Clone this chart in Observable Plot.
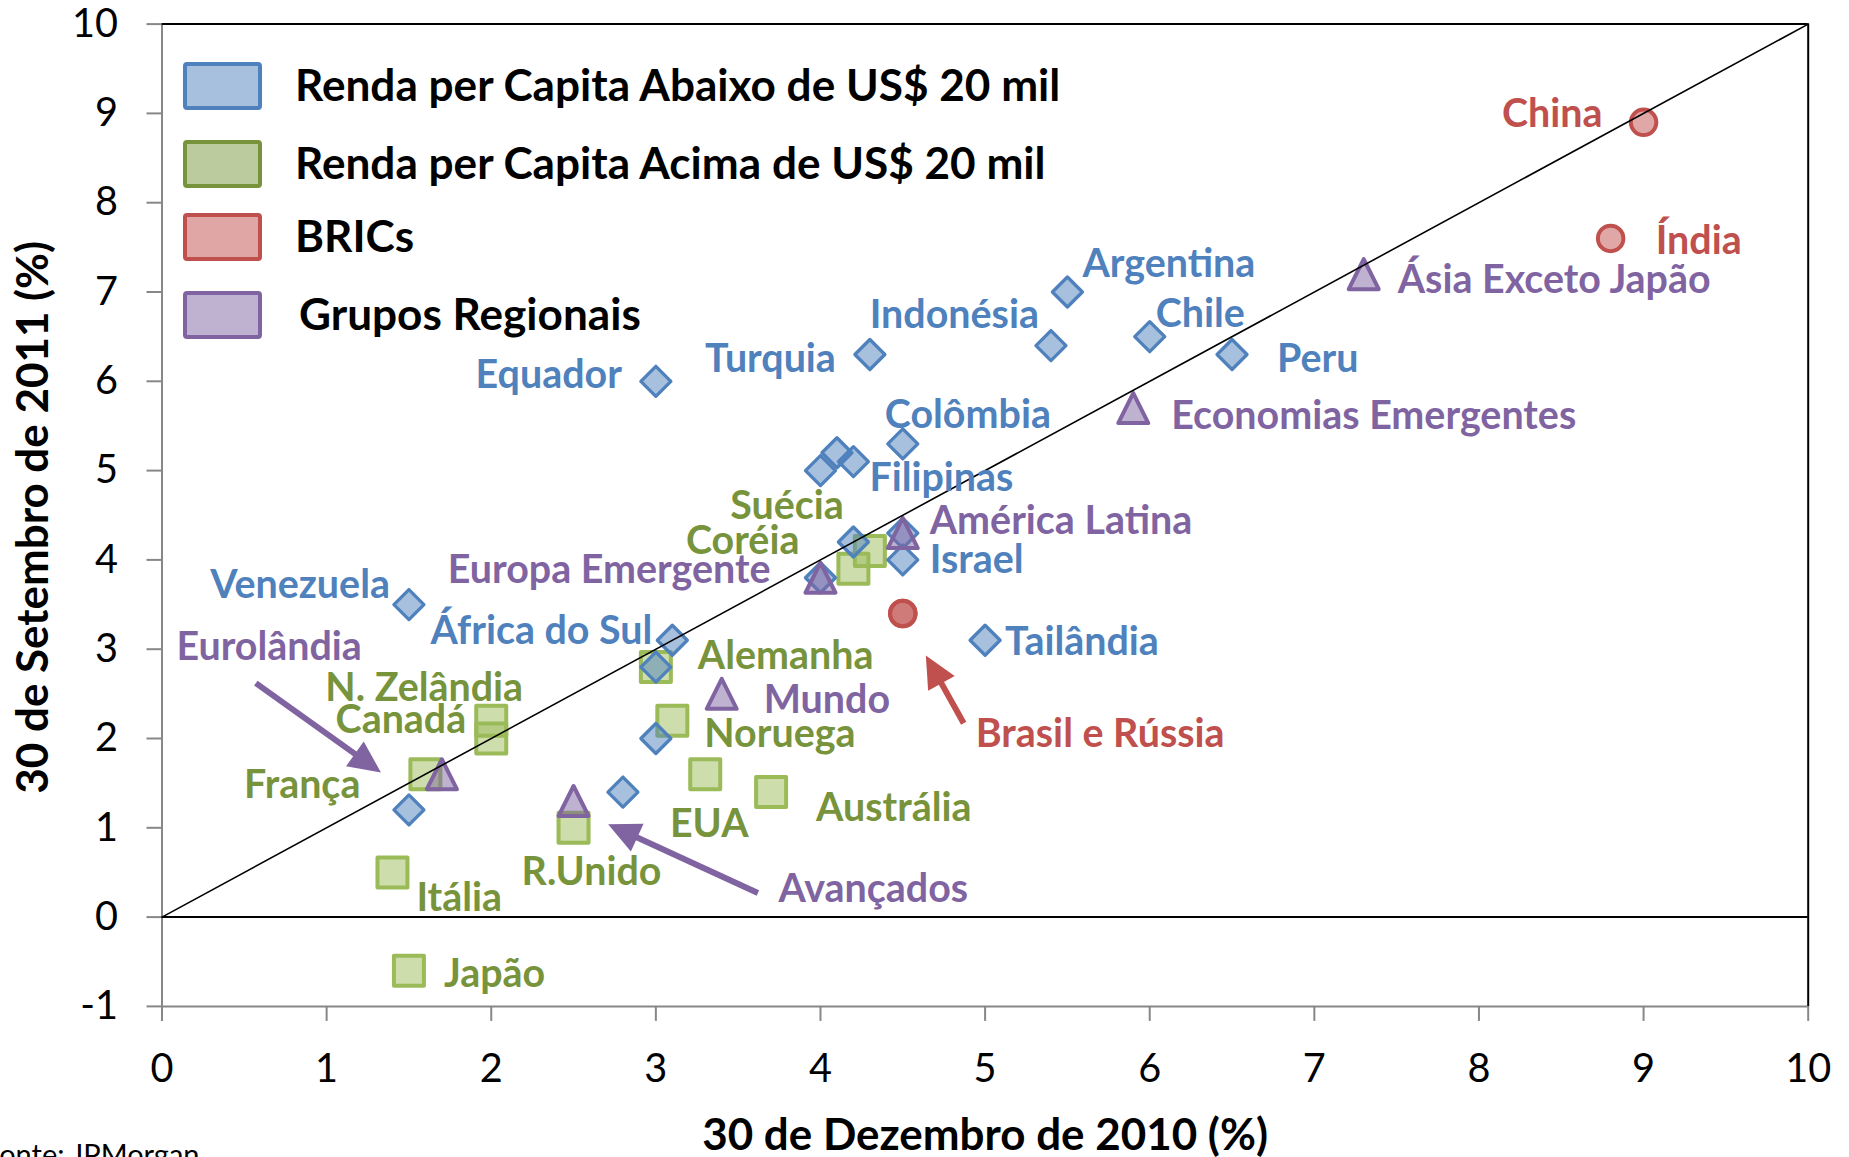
<!DOCTYPE html>
<html lang="pt">
<head>
<meta charset="utf-8">
<title>Crescimento do PIB</title>
<script src="https://cdn.jsdelivr.net/npm/d3@7"></script>
<script src="https://cdn.jsdelivr.net/npm/@observablehq/plot@0.6"></script>
<style>
  html, body { margin: 0; padding: 0; background: #fff; }
  #wrap { position: relative; width: 1849px; height: 1157px; overflow: hidden; font-family: Lato, "Open Sans", sans-serif; }
  #wrap svg { position: absolute; left: 0; top: 0; }
  .item { position: absolute; left: 183px; display: flex; align-items: center; white-space: nowrap; font-weight: 700; color: #000; }
  .sw { box-sizing: border-box; width: 79px; height: 48px; border: 4px solid; border-radius: 4px; margin-right: 33px; flex: none; }
  #caption { position: absolute; left: -16px; top: 1139px; font-size: 29px; line-height: 1; color: #000; white-space: nowrap; }
</style>
</head>
<body>
<div id="wrap"></div>
<script>
// ---------------- DATA ----------------
// Renda per Capita Abaixo de US$ 20 mil (azul)
const belowCountries = ["Argentina","Indonésia","Chile","Peru","Turquia","Equador","Colômbia","","Filipinas","","","","Israel","","Venezuela","África do Sul","","","","","Tailândia"];
const belowDec2010 = [5.5, 5.4, 6.0, 6.5, 4.3, 3.0, 4.5, 4.1, 4.2, 4.0, 4.2, 4.5, 4.5, 4.0, 1.5, 3.1, 3.0, 3.0, 2.8, 1.5, 5.0];
const belowSep2011 = [7.0, 6.4, 6.5, 6.3, 6.3, 6.0, 5.3, 5.2, 5.1, 5.0, 4.2, 4.3, 4.0, 3.8, 3.5, 3.1, 2.8, 2.0, 1.4, 1.2, 3.1];

// Renda per Capita Acima de US$ 20 mil (verde)
const aboveCountries = ["Suécia","Coréia","Alemanha","N. Zelândia","Canadá","França","Noruega","EUA","Austrália","R.Unido","Itália","Japão"];
const aboveDec2010 = [4.3, 4.2, 3.0, 2.0, 2.0, 1.6, 3.1, 3.3, 3.7, 2.5, 1.4, 1.5];
const aboveSep2011 = [4.1, 3.9, 2.8, 2.2, 2.0, 1.6, 2.2, 1.6, 1.4, 1.0, 0.5, -0.6];

// BRICs (vermelho)
const bricsCountries = ["China","Índia","Brasil","Rússia"];
const bricsDec2010 = [9.0, 8.8, 4.5, 4.5];
const bricsSep2011 = [8.9, 7.6, 3.4, 3.4];

// Grupos Regionais (roxo)
const regionalGroups = ["Ásia Exceto Japão","Economias Emergentes","América Latina","Europa Emergente","Mundo","Eurolândia","Avançados"];
const regionalDec2010 = [7.3, 5.9, 4.5, 4.0, 3.4, 1.7, 2.5];
const regionalSep2011 = [7.2, 5.7, 4.3, 3.8, 2.5, 1.6, 1.3];

// Setas de anotação (unidades dos dados)
const arrowLabels = ["Eurolândia","Avançados","Brasil e Rússia"];
const arrowX1 = [0.57, 3.62, 4.87];
const arrowY1 = [2.62, 0.27, 2.17];
const arrowX2 = [1.33, 2.71, 4.64];
const arrowY2 = [1.62, 1.04, 2.93];

const legendLabels = ["Renda per Capita Abaixo de US$ 20 mil","Renda per Capita Acima de US$ 20 mil","BRICs","Grupos Regionais"];
const xTicks = [0,1,2,3,4,5,6,7,8,9,10];
const yTicks = [-1,0,1,2,3,4,5,6,7,8,9,10];
const diagonal = [[0,0],[10,10]];
const xTitle = "30 de Dezembro de 2010 (%)";
const yTitle = "30 de Setembro de 2011 (%)";
const source = "Fonte: JPMorgan";

// ---------------- LAYOUT / STYLE ----------------
const W = 1849, H = 1157, mL = 161.5, mR = 41.3, mT = 23.6, mB = 151.1;
const kx = (W - mR - mL) / 10;
const ky = (H - mB - mT) / 11;

// label placement: [textAnchor, dx px, dy px, optional text]
const labelLayout = {
  "Argentina": ["start", 15, -28],
  "Indonésia": ["end", -12, -30],
  "Chile": ["start", 6, -22],
  "Peru": ["start", 45, 5],
  "Turquia": ["end", -34, 5],
  "Equador": ["end", -34, -6],
  "Colômbia": ["start", -18, -28],
  "Filipinas": ["start", 16, 17],
  "Israel": ["start", 27, 0],
  "Venezuela": ["end", -19, -19],
  "África do Sul": ["end", -20, -9],
  "Tailândia": ["start", 20, 2],
  "Suécia": ["end", -26, -45],
  "Coréia": ["end", -54, -27],
  "Alemanha": ["start", 42, -11],
  "N. Zelândia": ["middle", -67, -32],
  "Canadá": ["end", -25, -18],
  "França": ["end", -65, 11],
  "Noruega": ["start", 32, 14],
  "EUA": ["middle", 4, 50],
  "Austrália": ["start", 45, 16],
  "R.Unido": ["start", -52, 45],
  "Itália": ["start", 24, 26],
  "Japão": ["start", 35, 4],
  "China": ["end", -41, -8],
  "Índia": ["start", 45, 3],
  "Brasil": ["start", 73, 121, "Brasil e Rússia"],
  "Ásia Exceto Japão": ["start", 34, 6],
  "Economias Emergentes": ["start", 38, 8],
  "América Latina": ["start", 27, -12],
  "Europa Emergente": ["end", -50, -7],
  "Mundo": ["start", 42, 7],
  "Eurolândia": ["end", -80, -127],
  "Avançados": ["start", 205, 88]
};

// font sizes fitted to reference text widths
const ctx = document.createElement("canvas").getContext("2d");
function fit(text, weight, target) {
  ctx.font = `${weight} 100px Lato`;
  return 100 * target / ctx.measureText(text).width;
}
const labelFont = fit("Economias Emergentes", 700, 405);
const legendFont = fit(legendLabels[0], 700, 768);
const tickFont = fit("10", 400, 46);
const titleFont = fit(xTitle, 700, 566);

// symbols (half-size = r)
const sym = (f) => ({draw(c, size) { f(c, Math.sqrt(size / Math.PI)); }});
const squareSym = sym((c, r) => { c.moveTo(-r,-r); c.lineTo(r,-r); c.lineTo(r,r); c.lineTo(-r,r); c.closePath(); });
const diamondSym = sym((c, r) => { c.moveTo(0,-r); c.lineTo(r,0); c.lineTo(0,r); c.lineTo(-r,0); c.closePath(); });
const triangleSym = sym((c, r) => { c.moveTo(0,-r); c.lineTo(r,r); c.lineTo(-r,r); c.closePath(); });
const headSym = sym((c, r) => { c.moveTo(0,0); c.lineTo(0.95*r, 2*r); c.lineTo(-0.95*r, 2*r); c.closePath(); });

const series = [
  {names: aboveCountries, xs: aboveDec2010, ys: aboveSep2011, color: "#9BBB59", text: "#77933C", symbol: squareSym, r: 15, sw: 4},
  {names: belowCountries, xs: belowDec2010, ys: belowSep2011, color: "#4F81BD", text: "#4F81BD", symbol: diamondSym, r: 15, sw: 3.3},
  {names: bricsCountries, xs: bricsDec2010, ys: bricsSep2011, color: "#C0504D", text: "#C0504D", symbol: "circle", r: 12.75, sw: 4},
  {names: regionalGroups, xs: regionalDec2010, ys: regionalSep2011, color: "#8064A2", text: "#8064A2", symbol: triangleSym, r: 15, sw: 4}
];
const legendColors = [["#4F81BD","#A7C0DE"],["#77933C","#BCCB9E"],["#C0504D","#E0A6A5"],["#8064A2","#BFB1D0"]];
const arrowColors = ["#8064A2","#8064A2","#C0504D"];

// ---------------- MARKS ----------------
const marks = [
  Plot.ruleX([0], {stroke: "#878787", strokeWidth: 2}),
  Plot.ruleY([-1], {stroke: "#878787", strokeWidth: 2}),
  Plot.ruleY([10], {stroke: "#000", strokeWidth: 2}),
  Plot.ruleX([10], {stroke: "#000", strokeWidth: 2}),
  Plot.ruleY([0], {stroke: "#000", strokeWidth: 2}),
  Plot.axisX(xTicks, {anchor: "bottom", tickSize: 15, tickPadding: 32, fontSize: tickFont, stroke: "#878787", strokeWidth: 2, fill: "#000", tickFormat: d => String(d), label: null}),
  Plot.axisY(yTicks, {anchor: "left", tickSize: 15, tickPadding: 29, fontSize: tickFont, stroke: "#878787", strokeWidth: 2, fill: "#000", tickFormat: d => String(d), label: null})
];

for (const s of series) {
  const data = s.names.map((n, i) => ({name: n, x: s.xs[i], y: s.ys[i]}));
  marks.push(Plot.dot(data, {x: "x", y: "y", symbol: s.symbol, r: s.r, stroke: s.color, strokeWidth: s.sw, fill: s.color, fillOpacity: 0.5, strokeLinejoin: "round"}));
}

marks.push(Plot.line(diagonal, {x: d => d[0], y: d => d[1], stroke: "#000", strokeWidth: 1.6}));

// arrows
const arrows = arrowLabels.map((l, i) => {
  const sx = (arrowX2[i] - arrowX1[i]) * kx, sy = -(arrowY2[i] - arrowY1[i]) * ky;
  const len = Math.hypot(sx, sy), back = 26;
  return {label: l, color: arrowColors[i], x1: arrowX1[i], y1: arrowY1[i], x2: arrowX2[i], y2: arrowY2[i],
    xs: arrowX2[i] - (sx / len) * back / kx, ys: arrowY2[i] + (sy / len) * back / ky,
    angle: Math.atan2(sx, -sy) * 180 / Math.PI};
});
marks.push(Plot.link(arrows, {x1: "x1", y1: "y1", x2: "xs", y2: "ys", stroke: "color", strokeWidth: 6, strokeLinecap: "butt"}));
marks.push(Plot.dot(arrows, {x: "x2", y: "y2", symbol: headSym, r: 16, fill: "color", stroke: "none", rotate: "angle"}));

// labels
for (const s of series) {
  s.names.forEach((n, i) => {
    const L = labelLayout[n];
    if (!n || !L) return;
    marks.push(Plot.text([{x: s.xs[i], y: s.ys[i], t: L[3] || n}], {
      x: "x", y: "y", text: "t", textAnchor: L[0], dx: L[1], dy: L[2],
      fill: s.text, fontSize: labelFont, fontWeight: "bold", lineAnchor: "middle"
    }));
  });
}

// axis titles
marks.push(Plot.text([xTitle], {text: d => d, frameAnchor: "bottom", textAnchor: "middle", dy: 130, fontSize: titleFont, fontWeight: "bold", fill: "#000", lineAnchor: "middle"}));
marks.push(Plot.text([yTitle], {text: d => d, frameAnchor: "left", textAnchor: "middle", dx: -128.5, dy: 2, rotate: -90, fontSize: titleFont, fontWeight: "bold", fill: "#000", lineAnchor: "middle"}));

const chart = Plot.plot({
  width: W, height: H,
  marginLeft: mL, marginRight: mR, marginTop: mT, marginBottom: mB,
  x: {type: "linear", domain: [0, 10], label: null},
  y: {type: "linear", domain: [-1, 10], label: null},
  style: {fontFamily: "Lato, 'Open Sans', sans-serif", background: "#fff", overflow: "visible"},
  marks
});

const wrap = document.getElementById("wrap");
wrap.appendChild(chart);

// legend (inside plot area, HTML overlay)
const legendTops = [59, 137, 210, 288];
legendLabels.forEach((l, i) => {
  const it = document.createElement("div");
  it.className = "item";
  it.style.top = legendTops[i] + "px";
  it.style.fontSize = legendFont + "px";
  const sw = document.createElement("div");
  sw.className = "sw";
  sw.style.borderColor = legendColors[i][0];
  sw.style.background = legendColors[i][1];
  if (i === 3) sw.style.marginRight = "37px";
  const tx = document.createElement("span");
  tx.textContent = l;
  tx.style.position = "relative";
  tx.style.top = "-2px";
  it.appendChild(sw); it.appendChild(tx);
  wrap.appendChild(it);
});

const cap = document.createElement("div");
cap.id = "caption";
cap.textContent = source;
wrap.appendChild(cap);
</script>
</body>
</html>
